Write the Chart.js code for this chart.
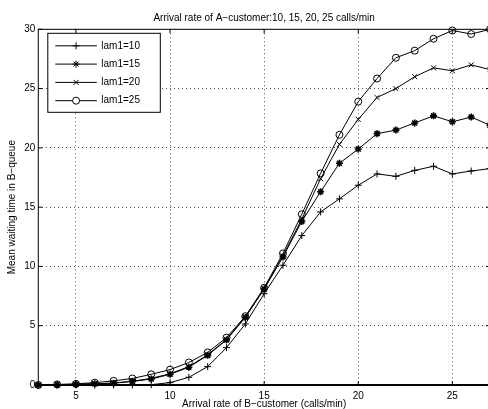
<!DOCTYPE html>
<html>
<head>
<meta charset="utf-8">
<script src="https://cdn.jsdelivr.net/npm/chart.js@4.4.0/dist/chart.umd.min.js"></script>
<style>
  html, body { margin: 0; padding: 0; background: #fff; overflow: hidden; width: 488px; height: 409px; }
  canvas { display: block; }
</style>
</head>
<body>
<canvas id="chart" width="500" height="409" style="width:500px;height:409px"></canvas>
<script>
// arrival rate of B-customer (calls/min)
const rateB = [3, 4, 5, 6, 7, 8, 9, 10, 11, 12, 13, 14, 15, 16, 17, 18, 19, 20, 21, 22, 23, 24, 25, 26, 27];
// mean waiting time in B-queue, one list per A-customer rate
const lam10 = [0, 0, 0, 0, 0, 0.01, 0.03, 0.2, 0.65, 1.55, 3.15, 5.15, 7.7, 10.1, 12.6, 14.6, 15.7, 16.85, 17.8, 17.6, 18.1, 18.45, 17.8, 18.05, 18.25];
const lam15 = [0, 0.02, 0.05, 0.1, 0.15, 0.3, 0.5, 0.9, 1.5, 2.5, 3.8, 5.7, 8.1, 10.8, 13.8, 16.3, 18.7, 19.9, 21.2, 21.5, 22.1, 22.7, 22.2, 22.6, 21.9];
const lam20 = [0, 0.02, 0.06, 0.1, 0.17, 0.32, 0.56, 0.95, 1.55, 2.55, 3.85, 5.75, 8.1, 10.9, 14.0, 17.4, 20.3, 22.4, 24.25, 25.0, 26.0, 26.75, 26.5, 27.0, 26.6];
const lam25 = [0, 0.05, 0.1, 0.2, 0.35, 0.55, 0.9, 1.3, 1.9, 2.75, 4.0, 5.8, 8.2, 11.1, 14.4, 17.85, 21.1, 23.9, 25.85, 27.6, 28.2, 29.2, 29.9, 29.6, 30.0];
const seriesLabels = ['lam1=10', 'lam1=15', 'lam1=20', 'lam1=25'];
const markers = ['cross', 'star', 'crossRot', 'circle'];

const FONT = 'Liberation Sans, Arial, Helvetica, sans-serif';

function pts(ys) {
  return ys.map((y, i) => ({ x: rateB[i], y: y }));
}

const datasets = [lam10, lam15, lam20, lam25].map((ys, i) => ({
  label: seriesLabels[i],
  data: pts(ys),
  borderColor: '#000',
  borderWidth: 1,
  backgroundColor: '#fff',
  pointStyle: markers[i],
  pointRadius: 3.5,
  pointBorderColor: '#000',
  pointBackgroundColor: markers[i] === 'circle' ? 'rgba(255,255,255,0)' : '#000',
  pointBorderWidth: markers[i] === 'star' ? 1.6 : 1,
  tension: 0,
  clip: false
}));

// frame, inner tick marks and the boxed legend (matlab look)
const matlabAxes = {
  id: 'matlabAxes',
  afterDatasetsDraw(chart) {
    const { ctx, chartArea: a, scales } = chart;
    ctx.save();
    ctx.strokeStyle = '#000';
    ctx.lineWidth = 1;
    ctx.strokeRect(a.left, a.top, a.right - a.left, a.bottom - a.top);
    ctx.lineWidth = 2;
    ctx.beginPath();
    ctx.moveTo(a.left, a.bottom);
    ctx.lineTo(a.right, a.bottom);
    ctx.stroke();
    ctx.lineWidth = 1;
    ctx.beginPath();
    scales.x.ticks.forEach(t => {
      const px = scales.x.getPixelForValue(t.value);
      ctx.moveTo(px, a.bottom); ctx.lineTo(px, a.bottom - 4);
      ctx.moveTo(px, a.top); ctx.lineTo(px, a.top + 4);
    });
    scales.y.ticks.forEach(t => {
      const py = scales.y.getPixelForValue(t.value);
      ctx.moveTo(a.left, py); ctx.lineTo(a.left + 4, py);
      ctx.moveTo(a.right, py); ctx.lineTo(a.right - 4, py);
    });
    ctx.stroke();

    // legend
    const lx = a.left + 9.5, ly = a.top + 4, lw = 112.5, lh = 79;
    ctx.fillStyle = '#fff';
    ctx.fillRect(lx, ly, lw, lh);
    ctx.strokeRect(lx, ly, lw, lh);
    ctx.font = '10px ' + FONT;
    ctx.textBaseline = 'middle';
    ctx.textAlign = 'left';
    chart.data.datasets.forEach((ds, i) => {
      const y = ly + 12.5 + i * 18.3;
      ctx.strokeStyle = '#000';
      ctx.lineWidth = 1;
      ctx.beginPath();
      ctx.moveTo(lx + 7.5, y);
      ctx.lineTo(lx + 49, y);
      ctx.stroke();
      ctx.fillStyle = '#fff';
      Chart.helpers.drawPoint(ctx, {
        pointStyle: ds.pointStyle, radius: ds.pointRadius, rotation: 0,
        borderWidth: ds.pointBorderWidth
      }, lx + 28.3, y);
      ctx.fillStyle = '#000';
      ctx.fillText(ds.label, lx + 53.5, y);
    });
    ctx.restore();
  }
};

new Chart(document.getElementById('chart'), {
  type: 'line',
  data: { datasets: datasets },
  plugins: [matlabAxes],
  options: {
    responsive: false,
    animation: false,
    layout: { padding: { left: 0, right: 10, top: 0, bottom: 0 } },
    plugins: {
      legend: { display: false },
      tooltip: { enabled: false },
      title: {
        display: true,
        text: 'Arrival rate of A\u2212customer:10, 15, 20, 25 calls/min',
        color: '#000',
        fullSize: false,
        font: { family: FONT, size: 10, weight: 'normal' },
        padding: { top: 12.3, bottom: 5 }
      }
    },
    scales: {
      x: {
        type: 'linear',
        min: 3,
        max: 27,
        afterFit: s => { s.height = 24; },
        border: { display: false, dash: [1, 3] },
        grid: { color: 'rgba(0,0,0,0.7)', lineWidth: 1, drawTicks: false },
        ticks: { stepSize: 5, includeBounds: false, color: '#000', padding: 5, maxRotation: 0,
                 font: { family: FONT, size: 10 } },
        title: { display: true, text: 'Arrival rate of B\u2212customer (calls/min)', color: '#000',
                 font: { family: FONT, size: 10 }, padding: { top: 0, bottom: -1 } }
      },
      y: {
        min: 0,
        max: 30,
        afterFit: s => { s.width = 38.3; },
        border: { display: false, dash: [1, 3] },
        grid: { color: 'rgba(0,0,0,0.7)', lineWidth: 1, drawTicks: false },
        ticks: { stepSize: 5, color: '#000', padding: 3, font: { family: FONT, size: 10 } },
        title: { display: true, text: 'Mean waiting time in B\u2212queue', color: '#000',
                 font: { family: FONT, size: 10 }, padding: { top: 6.7, bottom: 0 } }
      }
    }
  }
});
</script>
</body>
</html>
